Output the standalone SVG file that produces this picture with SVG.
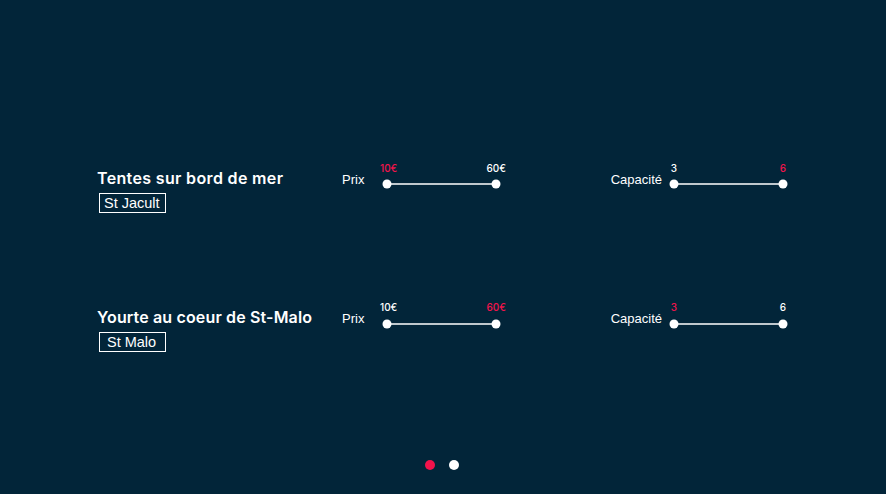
<svg xmlns="http://www.w3.org/2000/svg" width="886" height="494" viewBox="0 0 886 494">
<style>
.title{font-family:"Inter","Liberation Sans",sans-serif;font-size:16px;font-weight:600;fill:#fff}
.tag{font-family:"Liberation Sans",sans-serif;font-size:14.5px;fill:#fff}
.tagbox{fill:none;stroke:#fff;stroke-width:1}
.lbl{font-family:"Liberation Sans",sans-serif;font-size:13px;fill:#fff}
.val{font-family:"Inter","Liberation Sans",sans-serif;font-size:10px;font-weight:500;fill:#fff}
.val.on{fill:#f2134b}
.track{stroke:#fff;stroke-width:1.3}
.knob{fill:#fff}
</style>
<rect width="886" height="494" fill="#022539"/>
<g id="item1">
<text class="title" x="97" y="184" textLength="186" lengthAdjust="spacing">Tentes sur bord de mer</text>
<rect class="tagbox" x="99.5" y="193.5" width="66" height="19"/>
<text class="tag" x="104" y="208">St Jacult</text>
<text class="lbl" x="342" y="184">Prix</text>
<line class="track" x1="387" y1="184" x2="496" y2="184"/>
<circle class="knob" cx="387" cy="184" r="4.5"/>
<circle class="knob" cx="496" cy="184" r="4.5"/>
<text class="val on" x="380" y="172">10€</text>
<text class="val" x="506" y="172" text-anchor="end">60€</text>
<text class="lbl" x="662" y="184" text-anchor="end">Capacité</text>
<line class="track" x1="674" y1="184" x2="783" y2="184"/>
<circle class="knob" cx="674" cy="184" r="4.5"/>
<circle class="knob" cx="783" cy="184" r="4.5"/>
<text class="val" x="674" y="172" text-anchor="middle">3</text>
<text class="val on" x="783" y="172" text-anchor="middle">6</text>
</g>
<g id="item2">
<text class="title" x="97" y="323" textLength="215" lengthAdjust="spacing">Yourte au coeur de St-Malo</text>
<rect class="tagbox" x="99.5" y="332.5" width="66" height="19"/>
<text class="tag" x="107" y="347">St Malo</text>
<text class="lbl" x="342" y="323">Prix</text>
<line class="track" x1="387" y1="324" x2="496" y2="324"/>
<circle class="knob" cx="387" cy="324" r="4.5"/>
<circle class="knob" cx="496" cy="324" r="4.5"/>
<text class="val" x="380" y="311">10€</text>
<text class="val on" x="506" y="311" text-anchor="end">60€</text>
<text class="lbl" x="662" y="323" text-anchor="end">Capacité</text>
<line class="track" x1="674" y1="324" x2="783" y2="324"/>
<circle class="knob" cx="674" cy="324" r="4.5"/>
<circle class="knob" cx="783" cy="324" r="4.5"/>
<text class="val on" x="674" y="311" text-anchor="middle">3</text>
<text class="val" x="783" y="311" text-anchor="middle">6</text>
</g>
<g id="pager">
<circle cx="430" cy="465" r="5" fill="#f2134b"/>
<circle cx="454" cy="465" r="5" fill="#fff"/>
</g>
<g id="connectors"/>
</svg>
